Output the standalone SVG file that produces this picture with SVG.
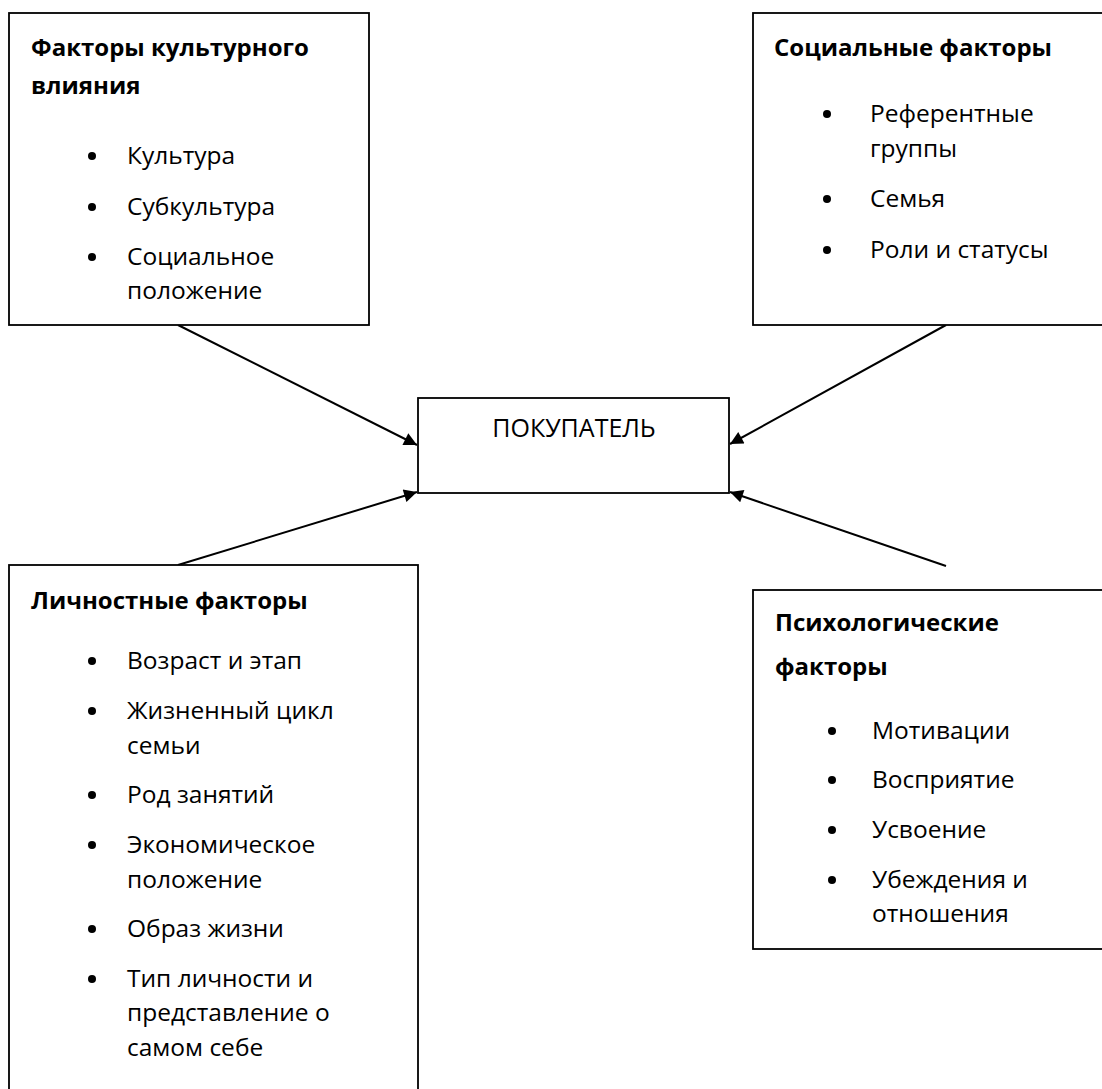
<svg xmlns="http://www.w3.org/2000/svg" width="1102" height="1089" viewBox="0 0 1102 1089">
<style>
.box{fill:#fff;stroke:#000;stroke-width:1.8}
.t{font-family:"Open Sans","Noto Sans","DejaVu Sans",sans-serif;font-size:24.5px;fill:#000}
.h{font-family:"Open Sans","Noto Sans","DejaVu Sans",sans-serif;font-size:24px;font-weight:bold;fill:#000}
.c{font-family:"Open Sans","Noto Sans","DejaVu Sans",sans-serif;font-size:25px;fill:#000}
.b{fill:#000}
.con{stroke:#000;stroke-width:2;fill:none;marker-end:url(#ah)}
</style>
<defs>
<marker id="ah" viewBox="0 0 10 10" refX="10" refY="5" markerUnits="userSpaceOnUse" markerWidth="16" markerHeight="13" orient="auto">
<path d="M0,0 L10,5 L0,10 z" fill="#000"/>
</marker>
</defs>
<rect width="1102" height="1089" fill="#fff"/>

<g id="connectors">
<path class="con" d="M178,325 L417,445"/>
<path class="con" d="M946,325 L730,444"/>
<path class="con" d="M178,565 L417,492"/>
<path class="con" d="M946,566 L730,492"/>
</g>

<g id="node-cultural">
<rect class="box" x="9" y="13" width="360" height="312"/>
<text class="h" x="31" y="56">Факторы культурного</text>
<text class="h" x="31" y="94">влияния</text>
<circle class="b" cx="92" cy="156" r="4"/>
<text class="t" x="127" y="164">Культура</text>
<circle class="b" cx="92" cy="207" r="4"/>
<text class="t" x="127" y="215">Субкультура</text>
<circle class="b" cx="92" cy="257" r="4"/>
<text class="t" x="127" y="265">Социальное</text>
<text class="t" x="127" y="299">положение</text>
</g>

<g id="node-social">
<rect class="box" x="753" y="13" width="360" height="312"/>
<text class="h" x="774" y="56">Социальные факторы</text>
<circle class="b" cx="827" cy="114" r="4"/>
<text class="t" x="870" y="122">Референтные</text>
<text class="t" x="870" y="157">группы</text>
<circle class="b" cx="827" cy="199" r="4"/>
<text class="t" x="870" y="207">Семья</text>
<circle class="b" cx="827" cy="250" r="4"/>
<text class="t" x="870" y="258">Роли и статусы</text>
</g>

<g id="node-buyer">
<rect class="box" x="418" y="398" width="311" height="95"/>
<text class="c" x="574" y="437" text-anchor="middle">ПОКУПАТЕЛЬ</text>
</g>

<g id="node-personal">
<rect class="box" x="9" y="565" width="409" height="540"/>
<text class="h" x="31" y="609">Личностные факторы</text>
<circle class="b" cx="92" cy="661" r="4"/>
<text class="t" x="127" y="669">Возраст и этап</text>
<circle class="b" cx="92" cy="711" r="4"/>
<text class="t" x="127" y="719">Жизненный цикл</text>
<text class="t" x="127" y="754">семьи</text>
<circle class="b" cx="92" cy="795" r="4"/>
<text class="t" x="127" y="803">Род занятий</text>
<circle class="b" cx="92" cy="845" r="4"/>
<text class="t" x="127" y="853">Экономическое</text>
<text class="t" x="127" y="888">положение</text>
<circle class="b" cx="92" cy="929" r="4"/>
<text class="t" x="127" y="937">Образ жизни</text>
<circle class="b" cx="92" cy="979" r="4"/>
<text class="t" x="127" y="987">Тип личности и</text>
<text class="t" x="127" y="1021">представление о</text>
<text class="t" x="127" y="1056">самом себе</text>
</g>

<g id="node-psychological">
<rect class="box" x="753" y="590" width="360" height="359"/>
<text class="h" x="775" y="631">Психологические</text>
<text class="h" x="775" y="675">факторы</text>
<circle class="b" cx="832" cy="731" r="4"/>
<text class="t" x="872" y="739">Мотивации</text>
<circle class="b" cx="832" cy="780" r="4"/>
<text class="t" x="872" y="788">Восприятие</text>
<circle class="b" cx="832" cy="830" r="4"/>
<text class="t" x="872" y="838">Усвоение</text>
<circle class="b" cx="832" cy="880" r="4"/>
<text class="t" x="872" y="888">Убеждения и</text>
<text class="t" x="872" y="922">отношения</text>
</g>
</svg>
